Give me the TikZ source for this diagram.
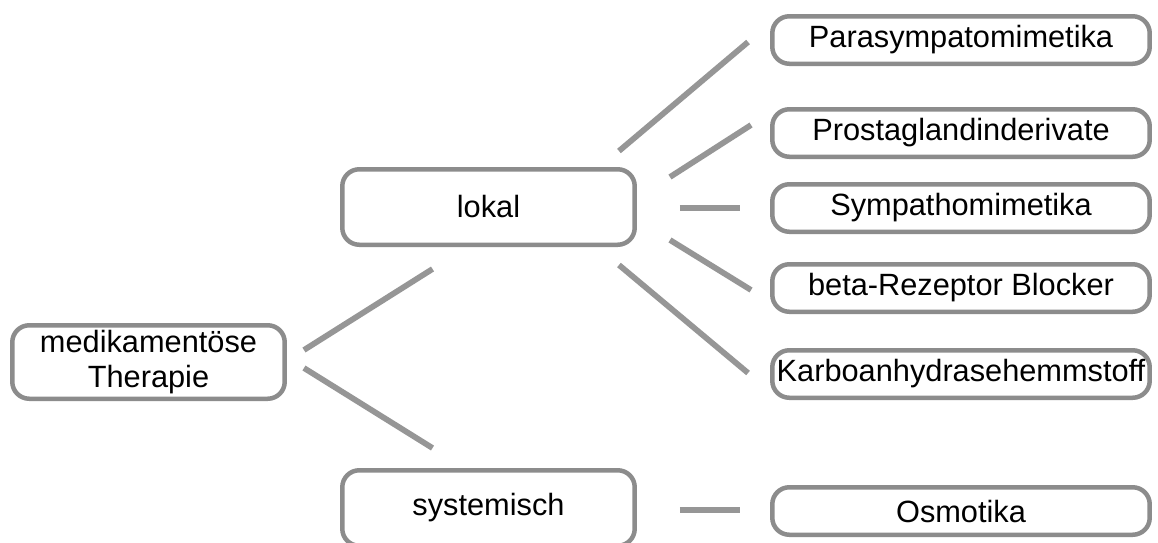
\documentclass[tikz,border=0pt]{standalone}
\usepackage{fontspec}
\setmainfont{Liberation Sans}
\usetikzlibrary{calc}
\definecolor{boxgray}{HTML}{8C8C8C}
\definecolor{linegray}{HTML}{969696}
\tikzset{
  x=0.02cm, y=-0.02cm,
  box/.style={draw=boxgray, line width=0.09cm, rounded corners=0.34cm, fill=white,
    inner sep=0pt, align=center, font=\fontsize{17.5}{20}\selectfont},
  bigbox/.style={box, minimum height=1.51cm},
  leafbox/.style={box, minimum width=7.55cm, minimum height=0.95cm},
  conn/.style={draw=linegray, line width=0.115cm}
}
\begin{document}
\begin{tikzpicture}
\useasboundingbox[fill=white] (0,0) rectangle (1158,542);
\node[box, minimum width=5.45cm, minimum height=1.47cm] (root) at (148.5,362) {medikamentöse\\Therapie};
\node[bigbox, minimum width=5.85cm] (lokal) at (488.5,207) {lokal};
\node[bigbox, minimum width=5.85cm] (sys) at (488.5,508) {systemisch};
\node[leafbox] (para) at (961,40) {Parasympatomimetika};
\node[leafbox] (prosta) at (961,133) {Prostaglandinderivate};
\node[leafbox] (sympa) at (961,208) {Sympathomimetika};
\node[leafbox] (beta) at (961,288) {beta-Rezeptor Blocker};
\node[leafbox] (karbo) at (961,374) {Karboanhydrasehemmstoff};
\node[leafbox] (osmo) at (961,511) {Osmotika};
\draw[conn] ($(root.east)+(17,-12)$) -- ($(lokal.south)+(-56,22)$);
\draw[conn] ($(root.east)+(17,6)$) -- ($(sys.north)+(-56,-20)$);
\draw[conn] ($(lokal.north east)+(-18,-16)$) -- ($(para.west)+(-22,2)$);
\draw[conn] ($(lokal.east)+(33,-30)$) -- ($(prosta.west)+(-19,-8)$);
\draw[conn] ($(lokal.east)+(43,1)$) -- ($(sympa.west)+(-30,0)$);
\draw[conn] ($(lokal.east)+(33,33)$) -- ($(beta.west)+(-19,2)$);
\draw[conn] ($(lokal.south east)+(-18,18)$) -- ($(karbo.west)+(-22,-1)$);
\draw[conn] ($(sys.east)+(43,2)$) -- ($(osmo.west)+(-30,-1)$);
\end{tikzpicture}
\end{document}
